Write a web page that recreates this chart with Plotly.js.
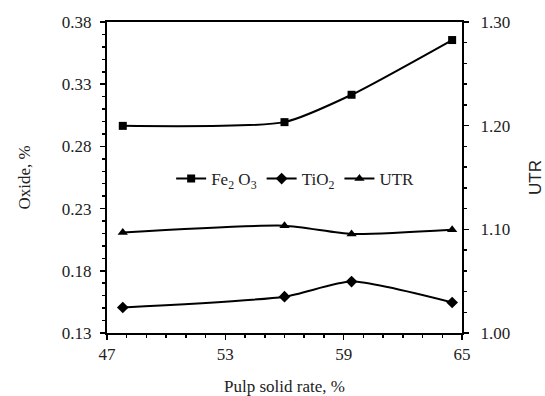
<!DOCTYPE html>
<html><head><meta charset="utf-8">
<script src="https://cdn.plot.ly/plotly-3.0.1.min.js"></script>
<style>html,body{margin:0;padding:0;background:#fff}#chart{width:545px;height:396px}</style>
</head><body><div id="chart"></div>
<script>
const pulpSolid = [47.8, 56.0, 59.4, 64.5];
const fe2o3 = [0.2965, 0.2995, 0.3215, 0.3655];
const tio2 = [0.1505, 0.1592, 0.1713, 0.1545];
const utr = [1.097, 1.1035, 1.0955, 1.0995];
const xTicks = [47, 53, 59, 65];

const serif = 'Liberation Serif, Times New Roman, serif';
const lineStyle = {color: '#000', width: 2, shape: 'spline', smoothing: 0.6};
const traces = [
  {x: pulpSolid, y: fe2o3, name: 'Fe<sub>2</sub> O<sub>3</sub>', mode: 'lines+markers', line: lineStyle,
   marker: {symbol: 'square', size: 8, color: '#000'}},
  {x: pulpSolid, y: tio2, name: 'TiO<sub>2</sub>', mode: 'lines+markers', line: lineStyle,
   marker: {symbol: 'diamond', size: 9, color: '#000'}},
  {x: pulpSolid, y: utr, name: 'UTR', mode: 'lines+markers', line: lineStyle, yaxis: 'y2',
   marker: {symbol: 'triangle-up', size: 9, color: '#000'}}
];
const layout = {
  width: 545, height: 396,
  margin: {l: 107, r: 83, t: 22, b: 63},
  paper_bgcolor: '#fff', plot_bgcolor: '#fff',
  font: {family: serif, size: 17, color: '#222'},
  showlegend: true,
  legend: {orientation: 'h', x: 0.53, xanchor: 'center', y: 0.495, yanchor: 'middle',
           bgcolor: 'rgba(0,0,0,0)', font: {family: serif, size: 17, color: '#222'}, itemwidth: 30},
  xaxis: {range: [47, 65], tickvals: xTicks, ticktext: xTicks.map(String), showgrid: false, zeroline: false,
          showline: true, linecolor: '#000', linewidth: 2, mirror: true,
          ticks: 'outside', ticklen: 5, tickwidth: 1.5, tickcolor: '#000',
          minor: {dtick: 1, ticks: 'outside', ticklen: 3, tickcolor: '#000', tickwidth: 1.5, showgrid: false},
          title: {text: 'Pulp solid rate, %', font: {family: serif, size: 17, color: '#222'}, standoff: 20}},
  yaxis: {range: [0.13, 0.38], tick0: 0.13, dtick: 0.05, tickformat: '.2f', showgrid: false, zeroline: false,
          showline: true, linecolor: '#000', linewidth: 2, ticklabelstandoff: 5,
          ticks: 'outside', ticklen: 5, tickwidth: 1.5, tickcolor: '#000',
          minor: {dtick: 0.01, tick0: 0.13, ticks: 'outside', ticklen: 3, tickcolor: '#000', tickwidth: 1.5, showgrid: false},
          title: {text: 'Oxide, %', font: {family: serif, size: 17, color: '#222'}, standoff: 27}},
  yaxis2: {range: [1.0, 1.3], dtick: 0.1, tickformat: '.2f', overlaying: 'y', side: 'right',
           showgrid: false, zeroline: false, showline: true, linecolor: '#000', linewidth: 2, ticklabelstandoff: 8,
           ticks: 'outside', ticklen: 5, tickwidth: 1.5, tickcolor: '#000',
           minor: {dtick: 0.02, ticks: 'outside', ticklen: 3, tickcolor: '#000', tickwidth: 1.5, showgrid: false},
           title: {text: 'UTR', font: {family: 'Liberation Sans, Arial, sans-serif', size: 17, color: '#222'}, standoff: 24}}
};
Plotly.newPlot('chart', traces, layout, {displayModeBar: false, staticPlot: true});
</script></body></html>
